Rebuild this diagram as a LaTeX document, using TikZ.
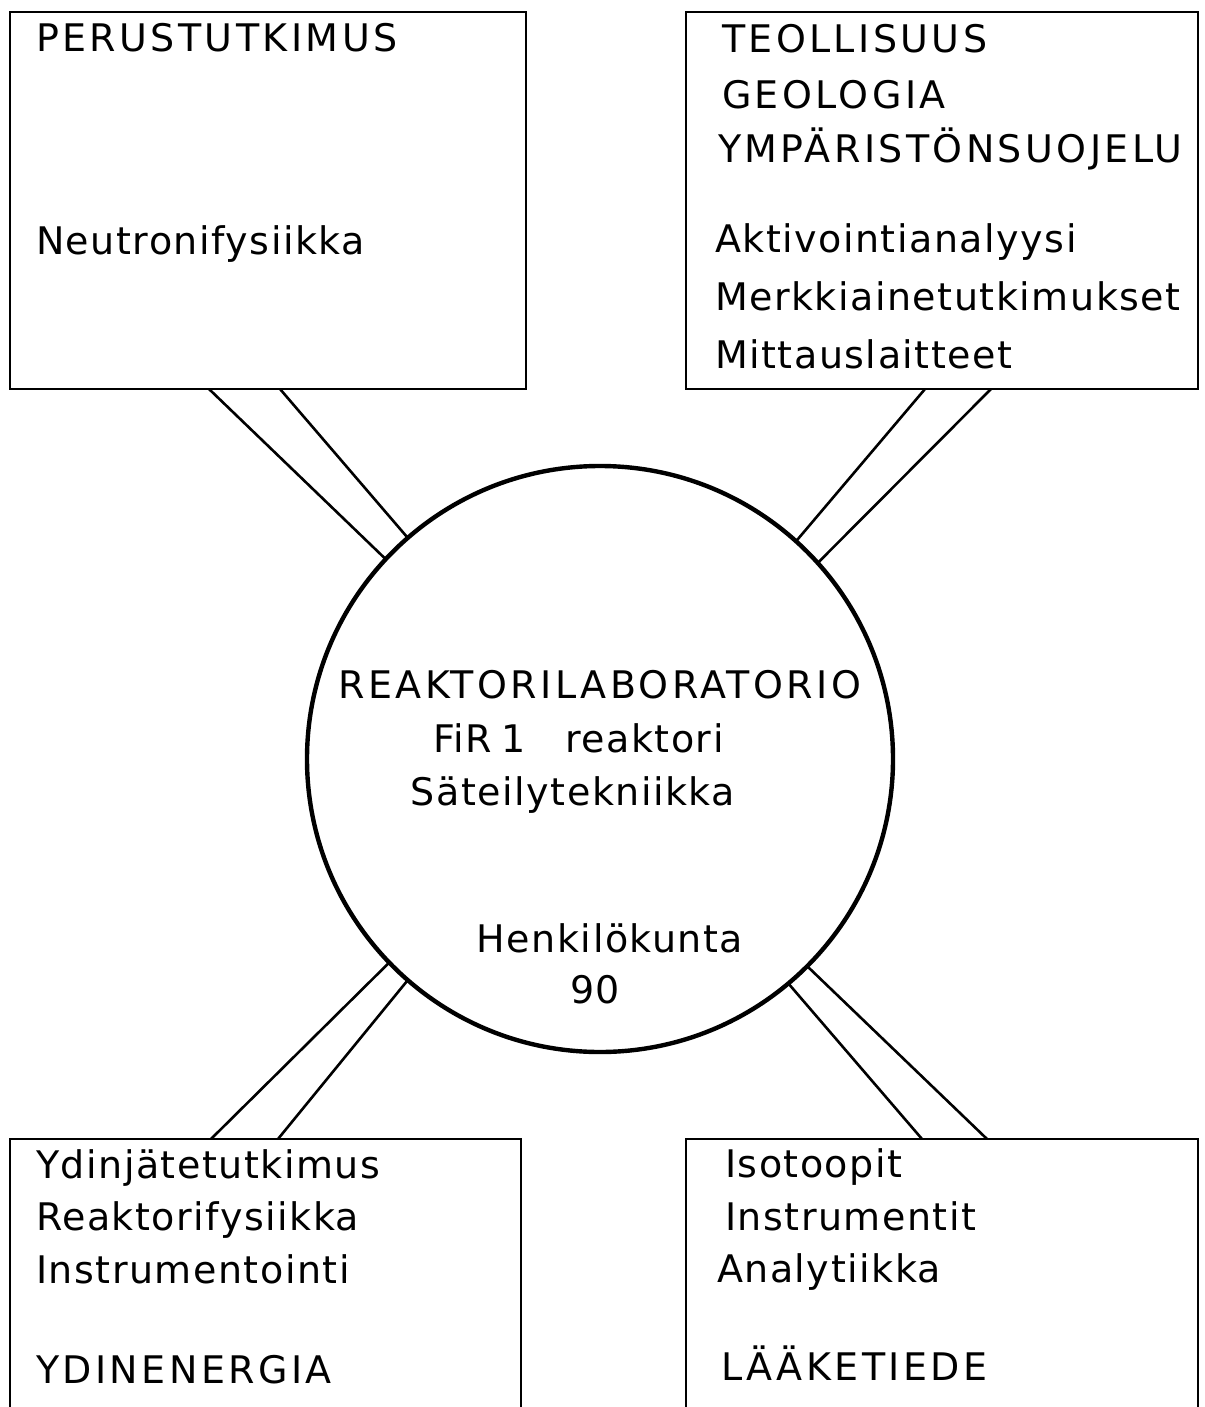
\documentclass[tikz,border=0pt]{standalone}
\usepackage{fontspec}
\setmainfont{DejaVu Sans}
\newfontfamily\capsfont[LetterSpace=9]{DejaVu Sans}
\newfontfamily\lowfont[LetterSpace=4]{DejaVu Sans}
\begin{document}
\begin{tikzpicture}[x=0.5pt,y=-0.5pt,
  box/.style={draw, rectangle, line width=1.3pt, inner sep=0pt, outer sep=0pt},
  hub/.style={draw, circle, line width=2.2pt, inner sep=0pt, outer sep=0pt, minimum size=293pt},
  link/.style={line width=1.3pt},
  lbl/.style={inner sep=0pt, outer sep=0pt, anchor=base west, font=\lowfont\fontsize{19}{21}\selectfont},
  capl/.style={lbl, font=\capsfont\fontsize{19}{21}\selectfont},
  clbl/.style={lbl, anchor=base},
  ccapl/.style={capl, anchor=base}]
\useasboundingbox (0,0) rectangle (1204,1407);
\fill[white] (0,0) rectangle (1204,1407);
\clip (0,0) rectangle (1204,1407);

% boxes
\node[box, minimum width=258pt, minimum height=188.5pt] (tl) at (268,200.5) {};
\node[box, minimum width=256pt, minimum height=188.5pt] (tr) at (942,200.5) {};
\node[box, minimum width=255.5pt, minimum height=145.5pt] (bl) at (265.5,1284.5) {};
\node[box, minimum width=256pt, minimum height=145.5pt] (br) at (942,1284.5) {};
\node[hub] (hub) at (600,759) {};

% texts top left
\node[capl] (perus) at (36,52) {PERUSTUTKIMUS};
\node[lbl] (neutr) at (36,255) {Neutronifysiikka};
% texts top right
\node[capl] (teol) at (722,53) {TEOLLISUUS};
\node[capl] (geol) at (722,109) {GEOLOGIA};
\node[capl] (ymp) at (718,163) {YMPÄRISTÖNSUOJELU};
\node[lbl] (akt) at (715,252) {Aktivointianalyysi};
\node[lbl] (merk) at (715,310) {Merkkiainetutkimukset};
\node[lbl] (mitt) at (715,368) {Mittauslaitteet};
% circle texts
\node[ccapl] (reak) at (600,698) {REAKTORILABORATORIO};
\node[lbl] (fir) at (433,752) {FiR\hspace{4.5pt}1\hspace{20pt}reaktori};
\node[clbl] (sat) at (573,805) {Säteilytekniikka};
\node[clbl] (henk) at (610,952) {Henkilökunta};
\node[clbl] (ninety) at (595,1003) {90};
% bottom left
\node[lbl] (ydinj) at (36,1178) {Ydinjätetutkimus};
\node[lbl] (reakf) at (36,1230) {Reaktorifysiikka};
\node[lbl] (instr) at (36,1283) {Instrumentointi};
\node[capl] (ydine) at (36,1383) {YDINENERGIA};
% bottom right
\node[lbl] (iso) at (725,1177) {Isotoopit};
\node[lbl] (instt) at (725,1230) {Instrumentit};
\node[lbl] (anal) at (717,1282) {Analytiikka};
\node[capl] (laak) at (721,1380) {LÄÄKETIEDE};

% connector end points on boxes
\coordinate (tla) at ([xshift=99.5pt]tl.south west);
\coordinate (tlb) at ([xshift=135pt]tl.south west);
\coordinate (tra) at ([xshift=119.5pt]tr.south west);
\coordinate (trb) at ([xshift=152.5pt]tr.south west);
\coordinate (bla) at ([xshift=100.5pt]bl.north west);
\coordinate (blb) at ([xshift=134pt]bl.north west);
\coordinate (bra) at ([xshift=118pt]br.north west);
\coordinate (brb) at ([xshift=150.5pt]br.north west);

% double connectors
\draw[link] (tla) -- (hub.137.5);
\draw[link] (tlb) -- (hub.131.5);
\draw[link] (tra) -- (hub.48);
\draw[link] (trb) -- (hub.42.5);
\draw[link] (bla) -- (hub.224);
\draw[link] (blb) -- (hub.229.5);
\draw[link] (bra) -- (hub.310.5);
\draw[link] (brb) -- (hub.315.5);
\end{tikzpicture}
\end{document}
